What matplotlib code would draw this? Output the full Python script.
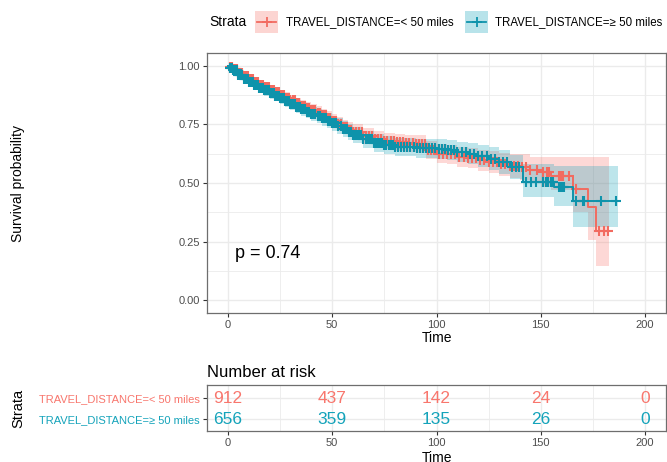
import numpy as np
import matplotlib
matplotlib.use('Agg')
import matplotlib.pyplot as plt
from matplotlib.patches import Rectangle
from matplotlib.lines import Line2D

plt.rcParams['font.family'] = ['Liberation Sans', 'DejaVu Sans']

#Strata names and colours
strata = ['TRAVEL_DISTANCE=< 50 miles', 'TRAVEL_DISTANCE=\u2265 50 miles']
line_cols = ['#F26B60', '#0E93AB']
text_cols = ['#F8766D', '#14A3BA']

#Kaplan-Meier steps for the < 50 miles group (time, survival, lower CI, upper CI)
red_time = [0, 1, 2.5, 5, 7.5, 10, 12.5, 15, 17.5, 20, 22.5, 25, 27.5, 30, 32.5, 35, 37.5, 40, 42.5,
            45, 47.5, 50, 52.5, 55, 57.5, 60, 65, 70, 75, 80, 85, 90, 95, 100,
            105, 110, 115, 120, 125, 130, 135, 140, 145, 150, 155, 165.2, 172.4, 176.4]
red_surv = [1.0, 0.995, 0.985, 0.97, 0.957, 0.945, 0.932, 0.92, 0.908, 0.897, 0.887, 0.877, 0.865,
            0.853, 0.841, 0.83, 0.82, 0.81, 0.80, 0.79, 0.778, 0.765, 0.752, 0.74, 0.728, 0.718,
            0.70, 0.688, 0.68, 0.674, 0.67, 0.665, 0.64, 0.625, 0.622, 0.612, 0.606, 0.598, 0.59,
            0.58, 0.572, 0.568, 0.555, 0.547, 0.532, 0.476, 0.396, 0.296]
red_lo = [1.0, 0.99, 0.977, 0.958, 0.944, 0.93, 0.916, 0.902, 0.889, 0.877, 0.866, 0.855, 0.842,
          0.83, 0.817, 0.805, 0.795, 0.784, 0.773, 0.762, 0.749, 0.736, 0.723, 0.71, 0.697, 0.686,
          0.667, 0.654, 0.645, 0.638, 0.633, 0.627, 0.601, 0.585, 0.581, 0.57, 0.563, 0.553, 0.543,
          0.531, 0.52, 0.513, 0.498, 0.485, 0.468, 0.375, 0.257, 0.146]
red_hi = [1.0, 1.0, 0.993, 0.982, 0.971, 0.96, 0.949, 0.938, 0.927, 0.917, 0.908, 0.899, 0.888,
          0.876, 0.865, 0.855, 0.846, 0.836, 0.827, 0.818, 0.806, 0.794, 0.782, 0.77, 0.759, 0.75,
          0.733, 0.722, 0.715, 0.71, 0.707, 0.703, 0.679, 0.665, 0.663, 0.654, 0.649, 0.643, 0.637,
          0.629, 0.624, 0.623, 0.612, 0.613, 0.613, 0.613, 0.613, 0.613]
red_end = 182.5
red_cens = [1, 1.5, 2, 2.5, 3, 3.5, 4, 4.5, 5, 5.5, 6, 6.5, 7, 7.5, 8, 8.5, 9, 9.5, 10, 10.5, 11, 11.5,
            12, 12.5, 13, 13.5, 14, 14.5, 15, 15.5, 16, 16.5, 17, 17.5, 18, 18.5, 19, 19.5, 20, 20.5,
            21, 21.5, 22, 22.5, 23, 23.5, 24, 24.5, 25, 25.5, 26, 26.5, 27, 27.5, 28, 28.5, 29, 29.5,
            30, 31, 32, 33, 34, 35, 36, 37, 38, 39, 40, 41, 42, 43, 44, 45, 46, 47, 48, 49, 50, 51, 52,
            53, 54, 55, 56, 57, 58, 59, 60, 61.5, 63, 64.5, 66, 67.5, 69, 70.5, 72, 73.5, 75, 76.5,
            78, 79.5, 81, 82.5, 84, 85.5, 87, 88.5, 90, 91.5, 93, 94.5, 96, 97.5, 99, 101, 103, 105,
            107, 109, 111, 113, 115, 117, 119, 121, 123, 125, 127, 129, 131, 133, 135, 137, 139, 141,
            143, 145, 148, 150.9, 152.8, 153.7, 158.9, 159.7, 160.4, 163.3, 166.8, 177.7, 180.4, 182]

#Kaplan-Meier steps for the >= 50 miles group
blue_time = [0, 1, 2.5, 5, 7.5, 10, 12.5, 15, 17.5, 20, 22.5, 25, 27.5, 30, 32.5, 35, 37.5, 40, 42.5,
             45, 47.5, 50, 52.5, 55, 57.5, 60, 65, 70, 75, 80, 90, 100, 105, 110,
             115, 120, 125, 130, 135, 141.3, 156.5, 165.2]
blue_surv = [1.0, 0.993, 0.982, 0.96, 0.946, 0.932, 0.92, 0.907, 0.895, 0.883, 0.872, 0.862, 0.85,
             0.838, 0.826, 0.815, 0.805, 0.795, 0.786, 0.776, 0.765, 0.755, 0.742, 0.73, 0.717,
             0.705, 0.686, 0.672, 0.661, 0.654, 0.648, 0.645, 0.64, 0.632, 0.625, 0.615, 0.604,
             0.59, 0.568, 0.504, 0.482, 0.425]
blue_lo = [1.0, 0.987, 0.972, 0.946, 0.93, 0.914, 0.9, 0.886, 0.873, 0.86, 0.848, 0.837, 0.824,
           0.811, 0.799, 0.787, 0.776, 0.765, 0.755, 0.745, 0.733, 0.722, 0.709, 0.696, 0.682,
           0.669, 0.649, 0.634, 0.622, 0.614, 0.607, 0.604, 0.598, 0.589, 0.581, 0.569, 0.556,
           0.54, 0.515, 0.44, 0.403, 0.313]
blue_hi = [1.0, 0.999, 0.992, 0.975, 0.962, 0.95, 0.939, 0.928, 0.917, 0.906, 0.896, 0.887, 0.876,
           0.865, 0.854, 0.843, 0.834, 0.825, 0.816, 0.807, 0.797, 0.788, 0.776, 0.764, 0.752,
           0.741, 0.723, 0.71, 0.7, 0.694, 0.689, 0.686, 0.682, 0.675, 0.669, 0.661, 0.652, 0.64,
           0.621, 0.583, 0.571, 0.571]
blue_end = 186.8
blue_cens = [1, 1.5, 2, 2.5, 3, 3.5, 4, 4.5, 5, 5.5, 6, 6.5, 7, 7.5, 8, 8.5, 9, 9.5, 10, 10.5, 11,
             11.5, 12, 12.5, 13, 13.5, 14, 14.5, 15, 15.5, 16, 16.5, 17, 17.5, 18, 18.5, 19, 19.5, 20,
             20.5, 21, 21.5, 22, 22.5, 23, 23.5, 24, 24.5, 25, 25.5, 26, 26.5, 27, 27.5, 28, 28.5, 29,
             29.5, 30, 30.5, 31, 31.5, 32, 32.5, 33, 33.5, 34, 34.5, 35, 36, 37, 38, 39, 40, 41, 42, 43,
             44, 45, 46, 47, 48, 49, 50, 51, 52, 53, 54, 55, 56, 57, 58, 59, 60, 61, 62, 63, 64, 65,
             66, 67, 68, 69, 70, 71, 72, 73, 74, 75, 76, 77, 78, 79, 80, 81.5, 83, 84.5, 86, 87.5, 89,
             90.5, 92, 93.5, 95, 96.5, 98, 99.5, 101, 102.5, 104, 105.5, 107, 108.5, 110, 112, 114,
             116, 118, 120, 122, 124, 126, 128, 130, 132, 134, 136, 138, 139.5, 142.9, 145.3, 147.7,
             150.9, 152.5, 153.3, 154.9, 155.7, 158.9, 159.7, 160.4, 161.2, 166.8, 170, 170.8, 178.8,
             186]

#Number at risk table
risk_times = [0, 50, 100, 150, 200]
risk_red = [912, 437, 142, 24, 0]
risk_blue = [656, 359, 135, 26, 0]
p_text = 'p = 0.74'

groups = [(red_time, red_surv, red_lo, red_hi, red_end, red_cens),
          (blue_time, blue_surv, blue_lo, blue_hi, blue_end, blue_cens)]

W, H = 667, 462
fig = plt.figure(figsize=(W / 100, H / 100), dpi=100)

def fx(px):
    return px / W

def fy(py):
    return 1 - py / H

grid_col = '#EBEBEB'
frame_col = '#6E6E6E'
tick_col = '#4D4D4D'

#Main survival panel
ax = fig.add_axes([fx(207), fy(313), fx(666) - fx(207), fy(53) - fy(313)])
for i, (t, s, lo, hi, end, cens) in enumerate(groups):
    tt = list(t) + [end]
    ss = list(s) + [s[-1]]
    ax.fill_between(tt, list(lo) + [lo[-1]], list(hi) + [hi[-1]], step='post',
                    color=text_cols[i], alpha=0.28, lw=0)
    ax.step(tt, ss, where='post', color=line_cols[i], lw=1.4)
    #censor marks sit on the curve at each censoring time
    idx = np.searchsorted(t, cens, side='right') - 1
    ax.plot(cens, np.array(s)[idx], '+', color=line_cols[i], ms=7.5, mew=1.5)

ax.text(3.5, 0.2, p_text, fontsize=13, va='center', ha='left')
ax.set_xlim(-10, 210)
ax.set_ylim(-0.055, 1.055)
ax.set_xticks([0, 50, 100, 150, 200])
ax.set_xticks([25, 75, 125, 175], minor=True)
ax.set_yticks([0, 0.25, 0.5, 0.75, 1.0])
ax.set_yticklabels(['0.00', '0.25', '0.50', '0.75', '1.00'])
ax.set_yticks([0.125, 0.375, 0.625, 0.875], minor=True)
ax.grid(which='major', color=grid_col, lw=1.0)
ax.grid(which='minor', color=grid_col, lw=0.6)
ax.set_axisbelow(True)
ax.tick_params(which='minor', length=0)
ax.tick_params(which='major', length=3, color='#333333', labelsize=8, labelcolor=tick_col, pad=2)
for sp in ax.spines.values():
    sp.set_color(frame_col)
    sp.set_linewidth(0.9)
ax.set_xlabel('Time', fontsize=10, labelpad=1)
fig.text(fx(18), fy(183), 'Survival probability', rotation=90, fontsize=10,
         ha='center', va='center')

#Legend along the top
fig.text(fx(209), fy(22), 'Strata', fontsize=10, va='center', ha='left')
key_x = [255, 465]
lab_x = [286, 495]
for i in range(2):
    fig.add_artist(Rectangle((fx(key_x[i]), fy(33)), fx(23), fy(11) - fy(33),
                             transform=fig.transFigure, facecolor=text_cols[i], alpha=0.3, lw=0))
    fig.add_artist(Line2D([fx(key_x[i] + 2), fx(key_x[i] + 21)], [fy(22), fy(22)],
                          transform=fig.transFigure, color=line_cols[i], lw=1.3))
    fig.add_artist(Line2D([fx(key_x[i] + 11.5)], [fy(22)], transform=fig.transFigure,
                          marker='+', ms=7, mew=1.3, color=line_cols[i]))
    fig.text(fx(lab_x[i]), fy(22), strata[i], fontsize=8.3, va='center', ha='left')

#Risk table panel
rx = fig.add_axes([fx(207), fy(431), fx(666) - fx(207), fy(385) - fy(431)])
for i, counts in enumerate([risk_red, risk_blue]):
    for t, n in zip(risk_times, counts):
        rx.text(t, 2 - i, str(n), color=text_cols[i], fontsize=12.5, ha='center', va='center')
rx.set_xlim(-10, 210)
rx.set_ylim(0.43, 2.62)
rx.set_xticks([0, 50, 100, 150, 200])
rx.set_xticks([25, 75, 125, 175], minor=True)
rx.set_yticks([2, 1])
rx.set_yticklabels(strata, fontsize=8.3)
for lab, c in zip(rx.get_yticklabels(), text_cols):
    lab.set_color(c)
rx.grid(which='major', color=grid_col, lw=1.0)
rx.grid(which='minor', axis='x', color=grid_col, lw=0.6)
rx.set_axisbelow(True)
rx.tick_params(which='minor', length=0)
rx.tick_params(which='major', length=3, color='#333333', labelsize=8, pad=2)
rx.tick_params(axis='x', labelcolor=tick_col)
for sp in rx.spines.values():
    sp.set_color(frame_col)
    sp.set_linewidth(0.9)
rx.set_xlabel('Time', fontsize=10, labelpad=2)
rx.set_title('Number at risk', fontsize=12, loc='left', pad=6, x=0.0)
fig.text(fx(18), fy(408), 'Strata', rotation=90, fontsize=10.5, ha='center', va='center')

plt.savefig('out.png', dpi=100)
plt.close('all')
